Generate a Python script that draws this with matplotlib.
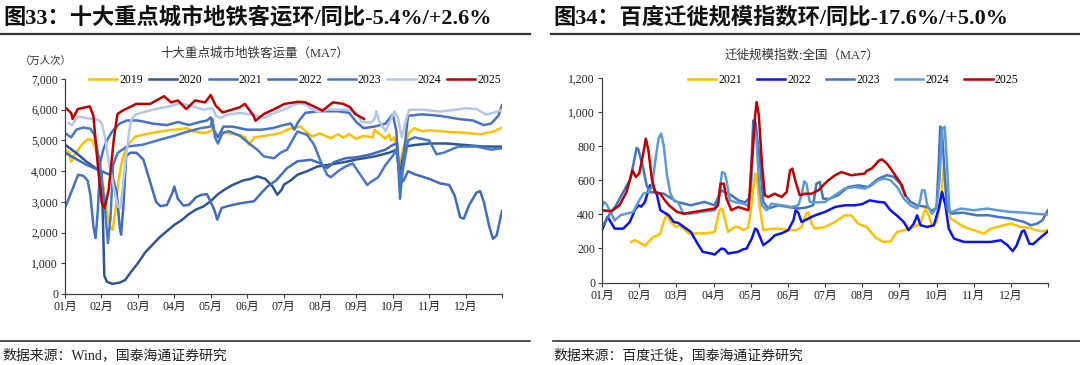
import matplotlib
matplotlib.use("Agg")
import matplotlib.pyplot as plt
from matplotlib.lines import Line2D
from matplotlib.ticker import FuncFormatter

plt.rcParams['font.family'] = ['Liberation Serif', 'Noto Sans CJK SC', 'DejaVu Sans']

# ---- data (x = month position from Jan 1, y = value) ----
month_labels = ['01月', '02月', '03月', '04月', '05月', '06月',
                '07月', '08月', '09月', '10月', '11月', '12月']

# left: ten-city metro ridership, 万人次 (MA7)
metro_2019 = [(0, 4700), (0.12, 4600), (0.17, 4300), (0.25, 4500), (0.45, 4850), (0.64, 5050), (0.75, 5000),
              (0.85, 4700), (0.95, 4200), (1.05, 3500), (1.15, 2700), (1.25, 2150), (1.31, 2090), (1.38, 2700),
              (1.47, 3700), (1.57, 4350), (1.66, 4700), (1.76, 4900), (1.94, 5130), (2.2, 5200), (2.6, 5290),
              (3.0, 5350), (3.35, 5400), (3.5, 5300), (3.81, 5240), (4.0, 5300), (4.05, 5380), (4.2, 5150),
              (4.4, 5250), (4.8, 5180), (4.95, 5100), (5.05, 4860), (5.2, 5100), (5.5, 5150), (5.92, 5240),
              (6.1, 5350), (6.29, 5400), (6.47, 5460), (6.6, 5300), (6.79, 5130), (7.0, 5230), (7.29, 5070),
              (7.5, 5200), (7.64, 5090), (7.8, 5200), (8.0, 5050), (8.2, 5150), (8.45, 5100), (8.5, 5350),
              (8.65, 5200), (8.8, 5050), (8.9, 5200), (8.95, 5000), (9.05, 5100), (9.15, 4500), (9.22, 4300),
              (9.3, 4800), (9.45, 5250), (9.6, 5400), (9.8, 5300), (10.0, 5330), (10.5, 5280), (11.0, 5250),
              (11.4, 5200), (11.8, 5300), (12.0, 5420)]
metro_2020 = [(0, 4860), (0.3, 4600), (0.6, 4300), (0.9, 4050), (1.0, 3950), (1.04, 2500), (1.08, 600),
              (1.15, 400), (1.3, 330), (1.5, 370), (1.65, 450), (1.8, 700), (2.0, 1000), (2.2, 1350),
              (2.4, 1600), (2.6, 1850), (2.8, 2050), (3.0, 2250), (3.2, 2400), (3.4, 2600), (3.6, 2750),
              (3.8, 2850), (4.0, 3020), (4.18, 3230), (4.37, 3390), (4.6, 3550), (4.9, 3700), (5.1, 3750),
              (5.28, 3830), (5.5, 3750), (5.7, 3500), (5.83, 3230), (5.95, 3400), (6.01, 3560), (6.2, 3700),
              (6.38, 3880), (6.65, 4000), (6.93, 4150), (7.2, 4200), (7.7, 4300), (8.0, 4380), (8.5, 4480),
              (8.9, 4600), (9.1, 4700), (9.2, 3800), (9.25, 4300), (9.35, 4800), (9.6, 4850), (10.0, 4900),
              (10.5, 4900), (11.0, 4850), (11.5, 4800), (12.0, 4800)]
metro_2021 = [(0, 2800), (0.1, 3100), (0.2, 3400), (0.36, 3880), (0.5, 3850), (0.62, 3700), (0.7, 3200),
              (0.78, 2200), (0.84, 1820), (0.9, 2700), (0.97, 4300), (1.05, 4700), (1.15, 5000), (1.3, 5300),
              (1.5, 5550), (1.7, 5650), (2.0, 5650), (2.4, 5550), (2.8, 5500), (3.1, 5600), (3.4, 5500),
              (3.7, 5600), (3.9, 5650), (4.0, 5750), (4.1, 5300), (4.2, 5100), (4.35, 5450), (4.6, 5450),
              (5.0, 5350), (5.4, 5350), (5.7, 5400), (6.0, 5500), (6.2, 5550), (6.3, 5350), (6.4, 5600),
              (6.6, 5900), (7.0, 5950), (7.5, 5950), (7.8, 5900), (8.0, 5600), (8.2, 5400), (8.5, 5450),
              (8.8, 5550), (9.0, 5850), (9.1, 5300), (9.2, 3100), (9.3, 4500), (9.42, 5800), (9.8, 5850),
              (10.3, 5800), (10.8, 5700), (11.2, 5650), (11.5, 5500), (11.7, 5550), (11.9, 5800), (12.0, 6150)]
metro_2022 = [(0, 4600), (0.3, 4400), (0.6, 4200), (0.9, 4050), (1.1, 3950), (1.3, 3850), (1.42, 3300),
              (1.5, 2200), (1.54, 1930), (1.6, 2800), (1.68, 4500), (1.8, 4600), (1.96, 4600), (2.15, 4380),
              (2.3, 3800), (2.5, 3000), (2.62, 2860), (2.8, 2900), (2.95, 3300), (3.0, 3500), (3.1, 3100),
              (3.25, 2880), (3.4, 2900), (3.6, 3150), (3.75, 3230), (3.9, 3250), (4.0, 3000), (4.1, 2740),
              (4.18, 2420), (4.3, 2800), (4.46, 2860), (4.8, 2950), (5.19, 3020), (5.4, 3300), (5.56, 3500),
              (5.8, 3700), (6.1, 4100), (6.38, 4320), (6.75, 4370), (7.02, 4250), (7.2, 4100), (7.4, 4300),
              (7.7, 4420), (8.0, 4450), (8.4, 4550), (8.8, 4700), (9.0, 4850), (9.12, 4900), (9.2, 3600),
              (9.3, 3700), (9.42, 4000), (9.6, 3900), (10.0, 3750), (10.3, 3600), (10.55, 3550), (10.7, 3200),
              (10.85, 2500), (10.95, 2450), (11.1, 2900), (11.3, 3300), (11.4, 3350), (11.5, 3000),
              (11.65, 2200), (11.75, 1800), (11.85, 1900), (12.0, 2700)]
metro_2023 = [(0, 5240), (0.17, 5100), (0.31, 5350), (0.5, 5420), (0.7, 5380), (0.8, 5200), (0.95, 4300),
              (1.08, 3000), (1.18, 1660), (1.25, 2500), (1.32, 4200), (1.45, 4600), (1.7, 4800), (2.13, 4860),
              (2.6, 5020), (3.0, 5150), (3.4, 5300), (3.73, 5400), (4.0, 5450), (4.05, 5700), (4.12, 5100),
              (4.2, 4900), (4.33, 5250), (4.5, 5300), (4.8, 5150), (5.1, 4860), (5.28, 4700), (5.46, 4480),
              (5.74, 4420), (5.92, 4600), (6.1, 4700), (6.38, 5290), (6.65, 5180), (6.84, 4860), (7.02, 4320),
              (7.2, 3880), (7.3, 3800), (7.5, 4000), (7.7, 4150), (7.9, 4250), (8.1, 3900), (8.3, 3550),
              (8.4, 3650), (8.6, 3800), (8.8, 4200), (9.0, 4500), (9.1, 4700), (9.22, 3600), (9.3, 4200),
              (9.42, 5000), (9.6, 5100), (10.0, 5000), (10.2, 4550), (10.4, 4600), (10.8, 4800), (11.3, 4800),
              (11.7, 4700), (12.0, 4750)]
metro_2024 = [(0.1, 5560), (0.19, 5500), (0.36, 5780), (0.73, 5700), (0.92, 5670), (1.01, 5560), (1.1, 5100),
              (1.2, 4320), (1.34, 3450), (1.45, 2850), (1.52, 2800), (1.57, 3300), (1.66, 4320), (1.76, 5290),
              (1.83, 5700), (1.94, 5840), (2.22, 5940), (2.6, 6050), (2.88, 6110), (3.16, 6210), (3.53, 6100),
              (3.81, 6000), (4.05, 6050), (4.15, 5800), (4.27, 5730), (4.46, 5840), (4.8, 5890), (5.19, 5840),
              (5.46, 5730), (5.74, 5890), (6.01, 6000), (6.29, 6160), (6.47, 6210), (6.65, 6150), (6.74, 6050),
              (6.93, 5940), (7.2, 6000), (7.57, 6000), (7.8, 5990), (8.0, 5900), (8.15, 5600), (8.4, 5580),
              (8.5, 5700), (8.55, 5950), (8.62, 5650), (8.8, 5300), (8.95, 5700), (9.05, 5950), (9.15, 5700),
              (9.25, 5100), (9.35, 5600), (9.45, 6000), (9.83, 6000), (10.29, 5940), (10.74, 6000),
              (11.02, 6050), (11.3, 6020), (11.57, 5840), (11.8, 5910), (12.0, 6000)]
metro_2025 = [(0, 6080), (0.17, 5890), (0.21, 5700), (0.35, 6020), (0.68, 6110), (0.78, 5800), (0.92, 3950),
              (1.01, 2970), (1.09, 2800), (1.2, 3400), (1.34, 5040), (1.44, 5860), (1.58, 5970), (1.96, 6190),
              (2.34, 6190), (2.72, 6440), (2.91, 6240), (3.1, 6300), (3.33, 6020), (3.57, 6300), (3.85, 6240),
              (4.0, 6480), (4.14, 6130), (4.33, 5910), (4.8, 6080), (4.94, 6190), (5.18, 5800), (5.23, 5640),
              (5.46, 5860), (5.75, 6020), (6.03, 6190), (6.41, 6260), (6.6, 6240), (6.88, 6080), (7.07, 5970),
              (7.36, 6240), (7.64, 6190), (7.83, 6080), (7.97, 5860), (8.21, 5700)]

# right: Baidu migration scale index (MA7)
mig_2021 = [(0.79, 238), (0.88, 248), (1.0, 235), (1.16, 215), (1.28, 245), (1.39, 268), (1.48, 275),
            (1.57, 287), (1.66, 355), (1.75, 404), (1.84, 355), (1.98, 326), (2.1, 335), (2.2, 315),
            (2.34, 287), (2.6, 288), (2.84, 289), (3.03, 297), (3.16, 424), (3.23, 434), (3.3, 380),
            (3.39, 297), (3.57, 326), (3.67, 326), (3.8, 307), (3.94, 326), (4.03, 473), (4.12, 639),
            (4.16, 630), (4.25, 434), (4.34, 307), (4.56, 316), (4.8, 316), (5.01, 307), (5.24, 307),
            (5.37, 326), (5.5, 404), (5.56, 410), (5.64, 345), (5.73, 316), (6.0, 326), (6.27, 355),
            (6.53, 394), (6.71, 394), (6.89, 345), (7.12, 326), (7.34, 268), (7.56, 238), (7.76, 240),
            (7.94, 297), (8.12, 307), (8.39, 326), (8.57, 346), (8.7, 434), (8.78, 400), (8.88, 336),
            (9.0, 350), (9.11, 473), (9.2, 688), (9.26, 520), (9.38, 375), (9.5, 360), (9.74, 326),
            (10.0, 307), (10.28, 287), (10.45, 315), (10.64, 326), (10.8, 335), (11.0, 346), (11.27, 326),
            (11.54, 320), (11.67, 307), (11.85, 300), (12.0, 310)]
mig_2022 = [(0, 307), (0.08, 350), (0.15, 385), (0.25, 350), (0.34, 316), (0.57, 316), (0.75, 355),
            (0.88, 424), (0.98, 453), (1.05, 445), (1.15, 470), (1.29, 570), (1.38, 560), (1.48, 512),
            (1.57, 424), (1.8, 394), (1.93, 355), (2.05, 350), (2.2, 326), (2.39, 297), (2.57, 228),
            (2.71, 180), (2.94, 170), (3.03, 164), (3.21, 199), (3.3, 195), (3.39, 170), (3.66, 180),
            (3.8, 195), (3.89, 199), (4.03, 258), (4.12, 316), (4.17, 310), (4.25, 268), (4.34, 219),
            (4.5, 245), (4.65, 277), (4.85, 290), (5.01, 307), (5.15, 365), (5.21, 424), (5.28, 410),
            (5.37, 355), (5.55, 375), (5.73, 394), (6.0, 414), (6.27, 443), (6.53, 453), (6.8, 453),
            (7.0, 460), (7.2, 482), (7.43, 473), (7.6, 470), (7.76, 424), (7.95, 390), (8.12, 355),
            (8.25, 307), (8.39, 346), (8.48, 394), (8.57, 336), (8.75, 326), (8.93, 336), (9.06, 434),
            (9.15, 531), (9.24, 453), (9.33, 316), (9.47, 258), (9.74, 238), (10.1, 238), (10.46, 238),
            (10.73, 248), (10.91, 219), (11.05, 184), (11.15, 215), (11.3, 300), (11.36, 305), (11.5, 227),
            (11.6, 225), (11.83, 270), (12.0, 300)]
mig_2023 = [(0, 326), (0.1, 360), (0.2, 400), (0.38, 453), (0.57, 531), (0.75, 600), (0.84, 688),
            (0.93, 790), (0.98, 780), (1.05, 720), (1.11, 668), (1.2, 570), (1.29, 531), (1.66, 521),
            (2.02, 473), (2.39, 453), (2.75, 473), (3.03, 453), (3.21, 541), (3.3, 530), (3.48, 512),
            (3.67, 482), (3.85, 470), (3.98, 500), (4.07, 951), (4.13, 940), (4.25, 707), (4.34, 473),
            (4.47, 434), (4.74, 453), (5.01, 443), (5.28, 434), (5.5, 440), (5.68, 453), (5.77, 580),
            (5.86, 590), (5.95, 492), (6.1, 490), (6.35, 512), (6.62, 560), (6.89, 570), (7.16, 560),
            (7.43, 609), (7.67, 630), (7.85, 620), (8.03, 580), (8.16, 512), (8.3, 473), (8.48, 453),
            (8.75, 443), (8.88, 420), (9.0, 440), (9.06, 700), (9.1, 915), (9.15, 880), (9.2, 700),
            (9.28, 430), (9.42, 404), (9.7, 410), (10.1, 394), (10.4, 395), (10.64, 385), (11.0, 375),
            (11.36, 355), (11.54, 336), (11.7, 345), (11.85, 365), (12.0, 425)]
mig_2024 = [(0, 443), (0.06, 473), (0.12, 460), (0.25, 404), (0.34, 365), (0.5, 395), (0.66, 404),
            (0.84, 414), (0.98, 473), (1.11, 521), (1.25, 531), (1.34, 560), (1.43, 707), (1.52, 844),
            (1.59, 873), (1.66, 805), (1.75, 629), (1.84, 521), (1.95, 477), (2.05, 470), (2.19, 404),
            (2.39, 404), (2.7, 415), (3.03, 424), (3.12, 460), (3.23, 648), (3.3, 640), (3.35, 600),
            (3.44, 482), (3.6, 470), (3.8, 463), (3.94, 450), (4.02, 600), (4.09, 880), (4.15, 860),
            (4.22, 600), (4.3, 453), (4.43, 424), (4.56, 463), (4.83, 453), (5.1, 443), (5.28, 453),
            (5.37, 512), (5.44, 594), (5.5, 580), (5.59, 473), (5.8, 470), (6.0, 473), (6.27, 512),
            (6.53, 551), (6.8, 560), (7.07, 551), (7.25, 570), (7.43, 600), (7.6, 610), (7.76, 600),
            (7.94, 560), (8.12, 492), (8.3, 453), (8.48, 434), (8.56, 480), (8.61, 541), (8.68, 541),
            (8.75, 453), (8.88, 404), (9.0, 440), (9.08, 600), (9.15, 900), (9.22, 915), (9.28, 700),
            (9.35, 420), (9.42, 414), (9.65, 434), (10.0, 424), (10.37, 434), (10.64, 424), (11.0, 414),
            (11.36, 410), (11.63, 404), (11.85, 400), (12.0, 400)]
mig_2025 = [(0, 424), (0.25, 418), (0.47, 453), (0.66, 531), (0.82, 658), (0.91, 619), (1.0, 639),
            (1.11, 756), (1.18, 844), (1.25, 775), (1.34, 609), (1.43, 531), (1.57, 521), (1.66, 492),
            (1.8, 453), (2.02, 414), (2.2, 404), (2.48, 414), (2.75, 424), (3.03, 434), (3.12, 453),
            (3.19, 580), (3.28, 580), (3.35, 492), (3.48, 424), (3.66, 443), (3.8, 434), (3.94, 424),
            (4.03, 707), (4.12, 980), (4.16, 1059), (4.22, 980), (4.3, 707), (4.38, 512), (4.47, 502),
            (4.65, 521), (4.83, 502), (4.97, 531), (5.06, 658), (5.12, 668), (5.21, 590), (5.32, 512),
            (5.46, 521), (5.64, 521), (5.82, 541), (5.95, 570), (6.09, 600), (6.27, 629), (6.44, 648),
            (6.71, 629), (6.9, 635), (7.07, 639), (7.12, 655), (7.25, 668), (7.34, 688), (7.45, 715),
            (7.53, 723), (7.67, 697), (7.8, 658), (7.89, 629), (8.07, 570), (8.16, 512)]

metro_series = [('2019', metro_2019, '#FFC000'), ('2020', metro_2020, '#2F5597'),
                ('2021', metro_2021, '#4472C4'), ('2022', metro_2022, '#3F6CC0'),
                ('2023', metro_2023, '#4878C8'), ('2024', metro_2024, '#B4C7E7'),
                ('2025', metro_2025, '#C00000')]
mig_series = [('2021', mig_2021, '#FFC000'), ('2022', mig_2022, '#0A14F0'),
              ('2023', mig_2023, '#4472C4'), ('2024', mig_2024, '#5B9BD5'),
              ('2025', mig_2025, '#C00000')]

W, H = 1080, 365
fig = plt.figure(figsize=(W / 100, H / 100), dpi=100)


def fx(px):
    return px / W


def fy(py):
    return 1 - py / H


def style_axis(ax, ymax, ystep):
    for s in ['top', 'right']:
        ax.spines[s].set_visible(False)
    for s in ['left', 'bottom']:
        ax.spines[s].set_color('#404040')
        ax.spines[s].set_linewidth(0.9)
    ax.set_xlim(0, 12)
    ax.set_ylim(0, ymax)
    ax.set_xticks(range(13))
    ax.set_xticklabels(month_labels + [''])
    ax.set_yticks(range(0, ymax + 1, ystep))
    ax.yaxis.set_major_formatter(FuncFormatter(lambda v, p: f'{int(v):,}'))
    ax.tick_params(direction='out', length=3, width=0.8, color='#404040',
                   labelsize=8.5, labelcolor='#222222', pad=2)


def draw(ax, series):
    for name, pts, col in series:
        xs = [p[0] for p in pts]
        ys = [p[1] for p in pts]
        ax.plot(xs, ys, color=col, lw=1.8, label=name, solid_joinstyle='round')


ax1 = fig.add_axes([fx(65), fy(294), fx(437), 215 / H])
draw(ax1, metro_series)
style_axis(ax1, 7000, 1000)

ax2 = fig.add_axes([fx(602), fy(282.5), fx(446), 204.5 / H])
draw(ax2, mig_series)
style_axis(ax2, 1200, 200)

leg_kw = dict(frameon=False, fontsize=8.5, handlelength=2.4, handletextpad=0.15,
              loc='center', bbox_transform=fig.transFigure, borderaxespad=0)
ax1.legend(ncol=7, columnspacing=0.5, bbox_to_anchor=(fx(295), fy(80)), **leg_kw)
ax2.legend(ncol=5, columnspacing=1.3, bbox_to_anchor=(fx(853), fy(80)), **leg_kw)

# headers
title_font = ['Liberation Serif', 'Noto Sans CJK SC']
fig.text(fx(3), fy(18), '图33：十大重点城市地铁客运环/同比-5.4%/+2.6%', fontsize=16,
         fontweight='bold', family=title_font, va='center', ha='left', color='#111111')
fig.text(fx(553), fy(18), '图34：百度迁徙规模指数环/同比-17.6%/+5.0%', fontsize=16,
         fontweight='bold', family=title_font, va='center', ha='left', color='#111111')
fig.add_artist(Line2D([0, fx(530)], [fy(34), fy(34)], color='#333333', lw=1.6))
fig.add_artist(Line2D([fx(551), 1], [fy(34), fy(34)], color='#333333', lw=1.6))

fig.text(fx(255), fy(53), '十大重点城市地铁客运量（MA7）', fontsize=9, ha='center', va='center',
         color='#333333')
fig.text(fx(46), fy(61), '（万人次）', fontsize=7.5, ha='center', va='center', color='#333333')
fig.text(fx(802), fy(56), '迁徙规模指数:全国（MA7）', fontsize=9, ha='center', va='center',
         color='#333333')

# footers
fig.add_artist(Line2D([0, fx(530)], [fy(341), fy(341)], color='#333333', lw=1.2))
fig.add_artist(Line2D([fx(553), 1], [fy(341), fy(341)], color='#333333', lw=1.2))
fig.text(fx(2), fy(355), '数据来源：Wind，国泰海通证券研究', fontsize=10, ha='left', va='center',
         color='#222222')
fig.text(fx(553), fy(355), '数据来源：百度迁徙，国泰海通证券研究', fontsize=10, ha='left', va='center',
         color='#222222')

fig.savefig('out.png', dpi=100)
